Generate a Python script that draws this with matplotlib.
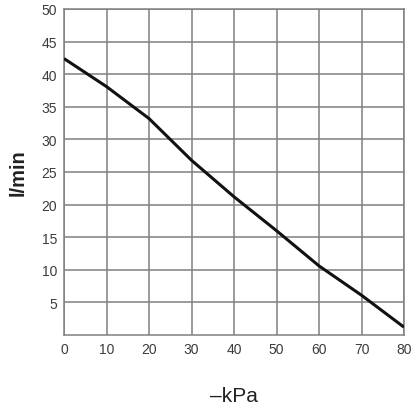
import matplotlib
matplotlib.use('Agg')
import matplotlib.pyplot as plt

plt.rcParams['font.family'] = ['Liberation Sans', 'DejaVu Sans']

# vacuum (-kPa) vs flow (l/min)
pressure = [0, 10, 20, 30, 40, 50, 60, 70, 80]
flow = [42.4, 38.1, 33.2, 26.8, 21.2, 16.0, 10.6, 6.1, 1.2]

x_ticks = [0, 10, 20, 30, 40, 50, 60, 70, 80]
y_ticks = [5, 10, 15, 20, 25, 30, 35, 40, 45, 50]

fig = plt.figure(figsize=(4.11, 4.10), dpi=100)
ax = fig.add_axes([64 / 411, 1 - 336 / 410, 340 / 411, 326 / 410])

ax.plot(pressure, flow, color='#111111', linewidth=2.2, solid_capstyle='butt', zorder=3)

ax.set_xlim(0, 80)
ax.set_ylim(0, 50)
ax.set_xticks(x_ticks)
ax.set_yticks(y_ticks)
ax.grid(True, color='#808080', linewidth=1.1)
ax.tick_params(length=0, labelsize=10, labelcolor='#3c3c3c', pad=5)
for s in ax.spines.values():
    s.set_color('#808080')
    s.set_linewidth(1.1)

ax.set_xlabel('–kPa', fontsize=15, color='#222222', labelpad=22)
ax.set_ylabel('l/min', fontsize=14.5, fontweight='bold', color='#222222', labelpad=10)

fig.savefig('out.png', dpi=100)
